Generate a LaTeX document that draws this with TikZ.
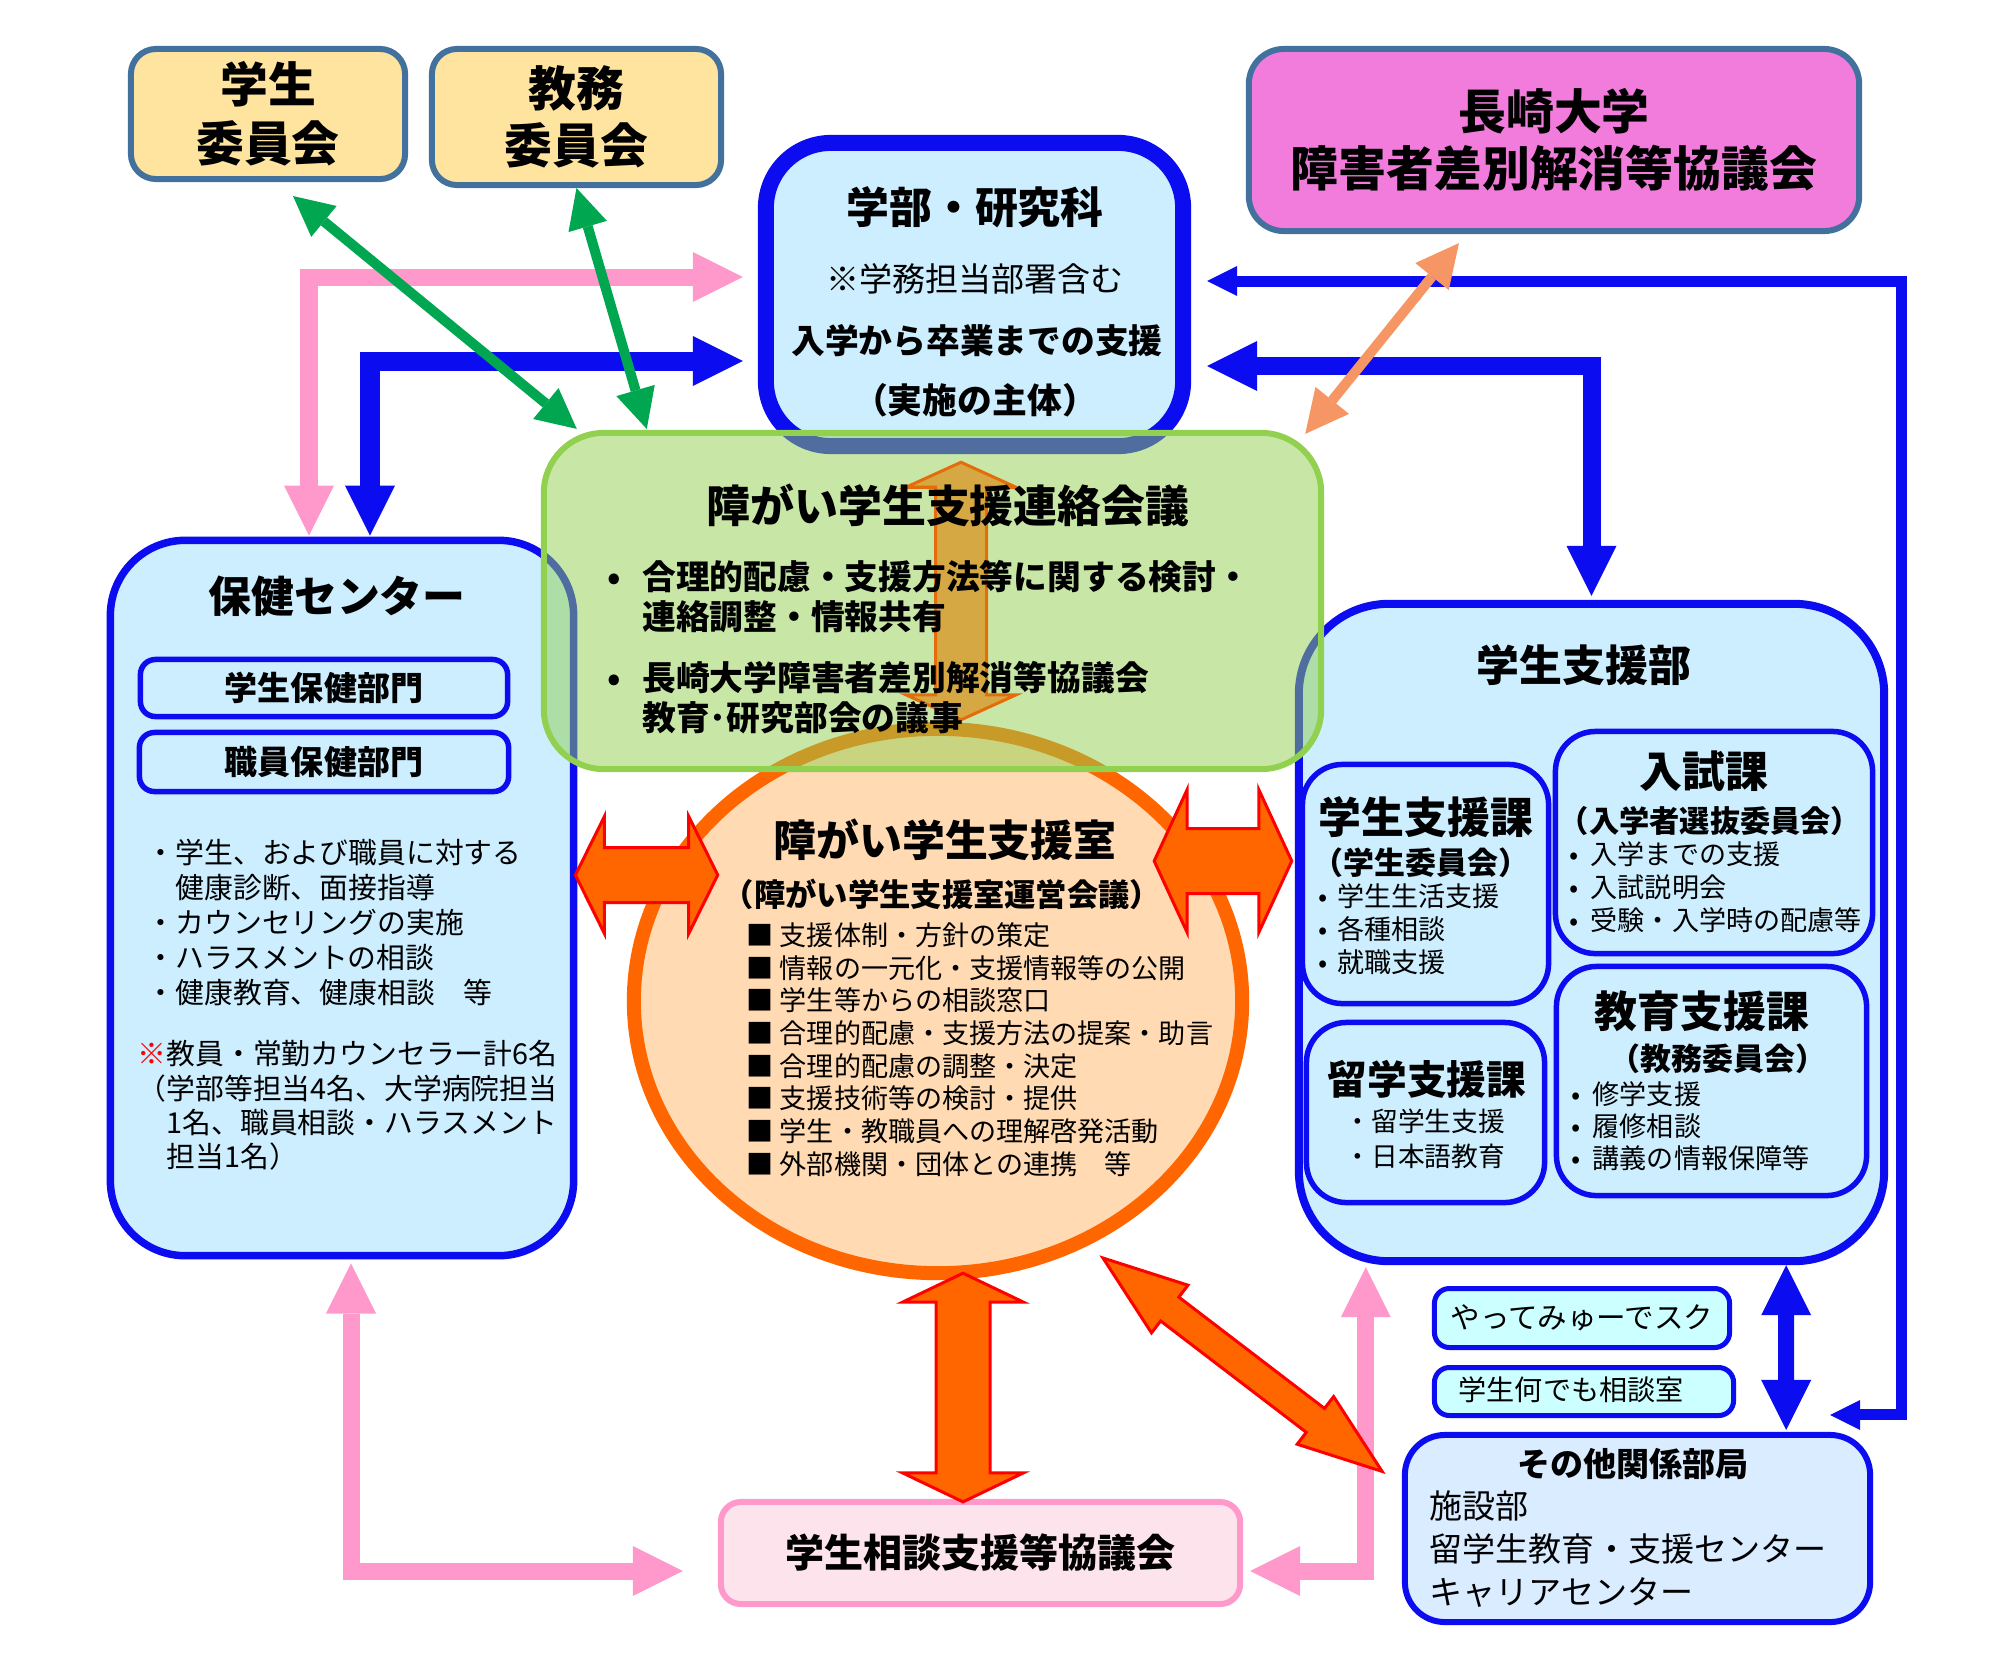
\documentclass[tikz,border=0pt]{standalone}
\usepackage{fontspec}
\setmainfont{Noto Sans CJK JP}
\usetikzlibrary{arrows.meta}
\usetikzlibrary{calc}
\usetikzlibrary{shapes.geometric}

\definecolor{pblue}{RGB}{12,12,240}
\definecolor{lblue}{RGB}{204,238,255}
\definecolor{steel}{RGB}{65,113,156}
\definecolor{lyellow}{RGB}{255,228,160}
\definecolor{pmagenta}{RGB}{241,124,220}
\definecolor{lgreen}{RGB}{146,208,80}
\definecolor{peach}{RGB}{255,218,178}
\definecolor{porange}{RGB}{255,102,0}
\definecolor{tanfill}{RGB}{214,168,67}
\definecolor{tanline}{RGB}{228,108,10}
\definecolor{ppink}{RGB}{255,153,204}
\definecolor{lpink}{RGB}{253,228,236}
\definecolor{ggreen}{RGB}{0,166,80}
\definecolor{psalmon}{RGB}{245,150,100}
\definecolor{paleblue}{RGB}{218,236,255}
\definecolor{lcyan}{RGB}{204,255,255}

\newcommand{\fsz}[2]{\fontsize{#1}{#2}\selectfont}
\newcommand{\bul}[1]{\makebox[#1][c]{•}}

% block arrow with two heads: style, from, to, half shaft, half head, head length (px)
\newcommand{\fatarrow}[6]{%
  \path let \p1=(#2), \p2=(#3) in \pgfextra{%
    \pgfmathsetmacro{\fatang}{atan2(\y2-\y1,\x2-\x1)}%
    \pgfmathsetmacro{\fatlen}{veclen(\x2-\x1,\y2-\y1)/0.284528}%
    \xdef\fatang{\fatang}\xdef\fatlen{\fatlen}};
  \draw[#1, shift={(#2)}, rotate=\fatang, x=0.01cm, y=0.01cm]
    (0,0) -- (#6,#5) -- (#6,#4) -- (\fatlen-#6,#4) -- (\fatlen-#6,#5) -- (\fatlen,0)
    -- (\fatlen-#6,-#5) -- (\fatlen-#6,-#4) -- (#6,-#4) -- (#6,-#5) -- cycle;
}

\begin{document}
\begin{tikzpicture}[x=0.01cm, y=-0.01cm,
  steelbox/.style={draw=steel, line width=0.6mm, rounded corners=2.5mm, inner sep=0pt, align=center},
  bluebox/.style={draw=pblue, fill=lblue, line width=0.75mm, inner sep=0pt},
  innerbox/.style={draw=pblue, fill=lblue, line width=0.55mm, rounded corners=4mm, inner sep=0pt},
  txt/.style={inner sep=0pt, align=left, anchor=west},
  bigtitle/.style={inner sep=0pt, font=\bfseries\fsz{12.2pt}{14pt}},
  pinkarr/.style={draw=ppink, line width=1.7mm, >={Triangle[width=5mm,length=5mm,line width=0pt]}, <->},
  bluearr/.style={draw=pblue, line width=1.9mm, >={Triangle[width=5mm,length=5mm,line width=0pt]}, <->},
  bluethin/.style={draw=pblue, line width=1.1mm, >={Triangle[width=3mm,length=3mm,line width=0pt]}, <->},
  greenarr/.style={draw=ggreen, line width=1mm, >={Triangle[width=4mm,length=4mm,line width=0pt]}, <->},
  salmonarr/.style={draw=psalmon, line width=1mm, >={Triangle[width=4.3mm,length=4.3mm,line width=0pt]}, <->},
  fat/.style={fill=porange, draw=red, line width=0.3mm},
  tanarr/.style={fill=tanfill, draw=tanline, line width=0.3mm}]

\useasboundingbox (0,0) rectangle (2000,1660);

% 学部・研究科
\node[bluebox, line width=1.6mm, rounded corners=6.5mm, minimum width=4.17cm, minimum height=3.03cm] (gakubu) at (974.5,294.5) {};
\node[bigtitle] (gakubuT) at (975,207) {学部・研究科};
\node[inner sep=0pt, font=\fsz{9.4pt}{11pt}] (gakubuS) at (975,279) {※学務担当部署含む};
\node[inner sep=0pt, font=\bfseries\fsz{9.6pt}{11pt}] (gakubuA) at (977,341) {入学から卒業までの支援};
\node[inner sep=0pt, font=\bfseries\fsz{9.9pt}{11pt}] (gakubuB) at (975,400) {（実施の主体）};

% 保健センター
\node[bluebox, rounded corners=7.5mm, minimum width=4.63cm, minimum height=7.15cm] (hoken) at (342,898) {};
\node[bigtitle, font=\bfseries\fsz{12.2pt}{14pt}] (hokenT) at (337,596) {保健センター};
\node[bluebox, line width=0.55mm, rounded corners=1.5mm, minimum width=3.67cm, minimum height=0.57cm, font=\bfseries\fsz{9.4pt}{11pt}] (gakuseihoken) at (324,688) {学生保健部門};
\node[bluebox, line width=0.55mm, rounded corners=1.5mm, minimum width=3.69cm, minimum height=0.59cm, font=\bfseries\fsz{9.4pt}{11pt}] (shokuinhoken) at (324,762) {職員保健部門};
\node[txt, font=\fsz{8.2pt}{9.9pt}] (hokenA) at (146,922.5) {・学生、および職員に対する\\\phantom{・}健康診断、面接指導\\・カウンセリングの実施\\・ハラスメントの相談\\・健康教育、健康相談　等};
\node[txt, font=\fsz{8.2pt}{9.77pt}] (hokenB) at (137,1105.5) {\textcolor{red}{※}教員・常勤カウンセラー計6名\\（学部等担当4名、大学病院担当\\\phantom{（}1名、職員相談・ハラスメント\\\phantom{（}担当1名）};

% 学生支援部
\node[bluebox, line width=0.8mm, rounded corners=9mm, minimum width=5.85cm, minimum height=6.57cm] (shienbu) at (1591.5,932.5) {};
\node[bigtitle] (shienbuT) at (1584,665) {学生支援部};
\node[innerbox, minimum width=2.46cm, minimum height=2.39cm] (gakushienka) at (1425.5,884) {};
\node[bigtitle] (gakushienkaT) at (1426,817) {学生支援課};
\node[inner sep=0pt, font=\bfseries\fsz{8.8pt}{10pt}] (gakushienkaS) at (1421,863) {（学生委員会）};
\node[txt, font=\fsz{7.7pt}{9.4pt}] (gakushienkaL) at (1307,929) {\bul{1.1em}学生生活支援\\\bul{1.1em}各種相談\\\bul{1.1em}就職支援};
\node[innerbox, minimum width=3.17cm, minimum height=2.22cm] (nyushi) at (1714,842.5) {};
\node[bigtitle] (nyushiT) at (1704,771) {入試課};
\node[inner sep=0pt, font=\bfseries\fsz{8.6pt}{10pt}] (nyushiS) at (1710,821) {（入学者選抜委員会）};
\node[txt, font=\fsz{7.7pt}{9.4pt}] (nyushiL) at (1556,887) {\bul{1.26em}入学までの支援\\\bul{1.26em}入試説明会\\\bul{1.26em}受験・入学時の配慮等};
\node[innerbox, minimum width=2.38cm, minimum height=1.80cm] (ryugaku) at (1425.5,1112.5) {};
\node[inner sep=0pt, font=\bfseries\fsz{11.3pt}{13pt}] (ryugakuT) at (1427,1079) {留学支援課};
\node[txt, font=\fsz{7.6pt}{10pt}] (ryugakuL) at (1344,1138.5) {・留学生支援\\・日本語教育};
\node[innerbox, minimum width=3.10cm, minimum height=2.29cm] (kyoiku) at (1711.5,1081) {};
\node[bigtitle] (kyoikuT) at (1702,1011) {教育支援課};
\node[inner sep=0pt, font=\bfseries\fsz{8.8pt}{10pt}] (kyoikuS) at (1718,1059) {（教務委員会）};
\node[txt, font=\fsz{7.7pt}{9.1pt}] (kyoikuL) at (1558,1126) {\bul{1.26em}修学支援\\\bul{1.26em}履修相談\\\bul{1.26em}講義の情報保障等};

% 障がい学生支援室
\node[ellipse, draw=porange, fill=peach, line width=1.4mm, minimum width=6.08cm, minimum height=5.44cm, inner sep=0pt] (circ) at (938,1001) {};
\node[bigtitle] (circT) at (945,840) {障がい学生支援室};
\node[inner sep=0pt, font=\bfseries\fsz{8.9pt}{10pt}] (circS) at (942,894) {（障がい学生支援室運営会議）};
\node[txt, font=\fsz{7.7pt}{9.3pt}] (circL) at (746,1049.5) {■ 支援体制・方針の策定\\■ 情報の一元化・支援情報等の公開\\■ 学生等からの相談窓口\\■ 合理的配慮・支援方法の提案・助言\\■ 合理的配慮の調整・決定\\■ 支援技術等の検討・提供\\■ 学生・教職員への理解啓発活動\\■ 外部機関・団体との連携　等};

% 障がい学生支援連絡会議
\node[draw=lgreen, line width=0.6mm, fill=lgreen, fill opacity=0.5, rounded corners=6mm, minimum width=7.77cm, minimum height=3.36cm, inner sep=0pt] (renraku) at (932.5,601) {};
\fatarrow{tanarr}{$(circ.north)+(23,-2)$}{$(gakubu.south)+(-13.5,8)$}{25.5}{55}{25}
\node[inner sep=0pt, font=\bfseries\fsz{12.5pt}{14pt}] (renrakuT) at (948,505) {障がい学生支援連絡会議};
\node[txt, font=\bfseries\fsz{9.6pt}{11.4pt}] (renrakuA) at (586,597) {\bul{1.65em}合理的配慮・支援方法等に関する検討・\\\hspace*{1.65em}連絡調整・情報共有};
\node[txt, font=\bfseries\fsz{9.6pt}{11.4pt}] (renrakuB) at (586,698) {\bul{1.65em}長崎大学障害者差別解消等協議会\\\hspace*{1.65em}教育･研究部会の議事};

% committees
\node[steelbox, fill=lyellow, minimum width=2.74cm, minimum height=1.30cm, font=\bfseries\fsz{13.6pt}{16.8pt}] (gakusei) at (268,114) {学生\\委員会};
\node[steelbox, fill=lyellow, minimum width=2.89cm, minimum height=1.36cm, font=\bfseries\fsz{13.6pt}{16.2pt}] (kyomu) at (576.5,117) {教務\\委員会};
\node[steelbox, fill=pmagenta, rounded corners=3.5mm, minimum width=6.10cm, minimum height=1.82cm, font=\bfseries\fsz{13.6pt}{16.2pt}] (nagasaki) at (1554,140) {長崎大学\\障害者差別解消等協議会};

% bottom boxes
\node[draw=ppink, fill=lpink, line width=0.6mm, rounded corners=2mm, minimum width=5.19cm, minimum height=1.02cm, inner sep=0pt, font=\bfseries\fsz{11.1pt}{13pt}] (sodan) at (980.5,1553) {学生相談支援等協議会};
\node[draw=pblue, fill=lcyan, line width=0.5mm, rounded corners=1.5mm, minimum width=2.95cm, minimum height=0.59cm, inner sep=0pt, font=\fsz{8.4pt}{10pt}] (yatte) at (1582,1318) {やってみゅーでスク};
\node[draw=pblue, fill=lcyan, line width=0.5mm, rounded corners=1.5mm, minimum width=2.99cm, minimum height=0.48cm, inner sep=0pt] (nandemo) at (1584,1391.5) {};
\node[txt, font=\fsz{8pt}{10pt}] (nandemoT) at (1458,1390) {学生何でも相談室};
\node[draw=pblue, fill=paleblue, line width=0.6mm, rounded corners=4mm, minimum width=4.65cm, minimum height=1.87cm, inner sep=0pt] (sonota) at (1637.5,1528.5) {};
\node[inner sep=0pt, font=\bfseries\fsz{9.4pt}{11pt}] (sonotaT) at (1633,1464) {その他関係部局};
\node[txt, font=\fsz{9.4pt}{12.2pt}] (sonotaL) at (1429,1549) {施設部\\留学生教育・支援センター\\キャリアセンター};

% line arrows
\draw[pinkarr] ($(hoken.north)+(-33,-1)$) |- ($(gakubu.west)+(-15,-17.5)$);
\draw[bluearr] ($(hoken.north)+(28,-1)$) |- ($(gakubu.west)+(-15,66.5)$);
\draw[greenarr] ($(gakusei.south)+(25,14)$) -- ($(renraku.north west)+(36,-1)$);
\draw[greenarr] ($(kyomu.south)+(0,0)$) -- ($(renraku.north west)+(106,-1)$);
\draw[bluearr, line width=1.8mm] ($(gakubu.east)+(16,71.5)$) -| ($(shienbu.north)+(0,-4)$);
\draw[bluethin] ($(gakubu.east)+(16,-13.5)$) -| ($(sonota.north east)+(28,-17)$) -- ($(sonota.north east)+(-43,-17)$);
\draw[salmonarr] ($(nagasaki.south)+(-95,9)$) -- ($(renraku.north east)+(-19,4)$);
\draw[bluearr, line width=1.6mm] ($(shienbu.south east)+(-102,0)$) -- ($(sonota.north east)+(-87,-2)$);
\draw[pinkarr] ($(hoken.south)+(9,4)$) |- ($(sodan.west)+(-35,18)$);
\draw[pinkarr] ($(shienbu.south west)+(71,2)$) |- ($(sodan.east)+(7,18)$);

% block arrows
\fatarrow{fat}{$(hoken.east)+(-2,-23)$}{$(circ.west)+(91,-126)$}{27.5}{58.5}{29}
\fatarrow{fat}{$(circ.east)+(-95,-140)$}{$(shienbu.west)+(-3,-71.5)$}{32.5}{71.5}{33}
\fatarrow{fat}{$(circ.south)+(25,-7)$}{$(sodan.north)+(-17.5,3)$}{27}{60.5}{29}
\fatarrow{fat}{$(circ.center)+(165,257)$}{$(sonota.north west)+(-19,40)$}{15}{30}{84}
\end{tikzpicture}
\end{document}
